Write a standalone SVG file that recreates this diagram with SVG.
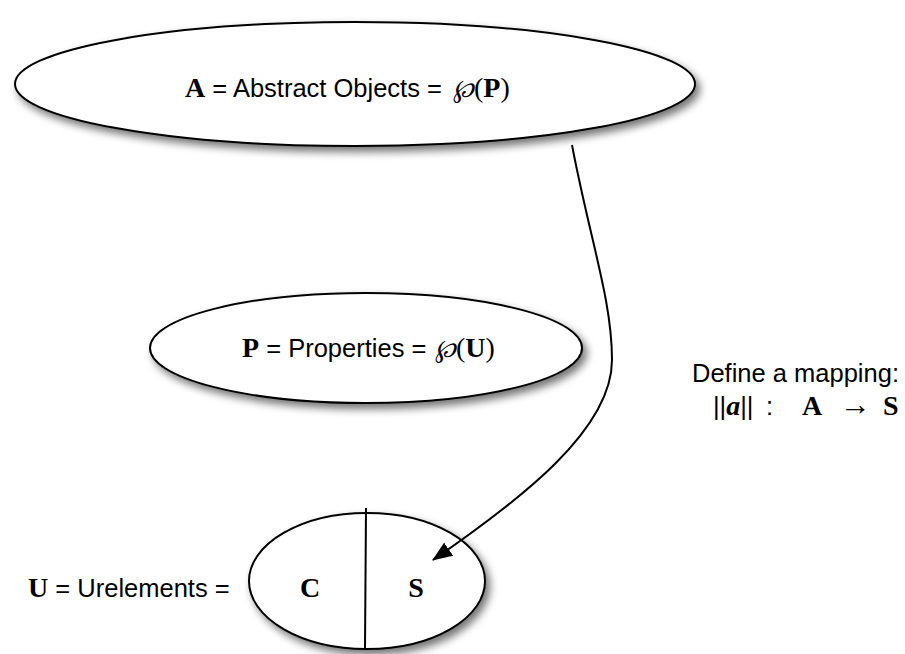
<svg xmlns="http://www.w3.org/2000/svg" width="905" height="654" viewBox="0 0 905 654">
<defs>
<filter id="sh" x="-20%" y="-20%" width="150%" height="160%">
<feGaussianBlur in="SourceAlpha" stdDeviation="4"/>
<feOffset dx="4" dy="5" result="b"/>
<feComponentTransfer><feFuncA type="linear" slope="0.55"/></feComponentTransfer>
<feMerge><feMergeNode/><feMergeNode in="SourceGraphic"/></feMerge>
</filter>
<marker id="ah" markerWidth="20" markerHeight="16" refX="19" refY="8" orient="auto" markerUnits="userSpaceOnUse" viewBox="0 0 20 16">
<path d="M0,0 L20,8 L0,16 z" fill="#000"/>
</marker>
</defs>
<style>
.e{fill:#fff;stroke:#000;stroke-width:2;filter:url(#sh)}
.t{font-family:"Liberation Sans",Arial,sans-serif;font-size:25.5px;fill:#000}
.b{font-family:"Liberation Serif","Times New Roman",serif;font-weight:bold;font-size:28px}
.r{font-family:"Liberation Serif","Times New Roman",serif;font-size:28px}
.w{font-family:"DejaVu Serif",serif;font-style:italic;font-size:25px}
.c{stroke:#000;stroke-width:2;fill:none}
</style>
<rect width="905" height="654" fill="#fff"/>
<g id="nodeA">
<ellipse class="e" cx="355" cy="84" rx="340" ry="62"/>
<text class="t" x="185" y="97"><tspan class="b">A</tspan> = Abstract Objects = <tspan class="w" x="453">℘</tspan><tspan class="r">(</tspan><tspan class="b">P</tspan><tspan class="r">)</tspan></text>
</g>
<g id="nodeP">
<ellipse class="e" cx="366" cy="348" rx="216" ry="55"/>
<text class="t" x="242" y="357"><tspan class="b">P</tspan> = Properties = <tspan class="w" x="435">℘</tspan><tspan class="r">(</tspan><tspan class="b">U</tspan><tspan class="r">)</tspan></text>
</g>
<g id="nodeU">
<ellipse class="e" cx="367" cy="581" rx="118" ry="68"/>
<line class="c" x1="366" y1="508" x2="365" y2="648"/>
<text class="b" x="310" y="597" text-anchor="middle">C</text>
<text class="b" x="416" y="597" text-anchor="middle">S</text>
</g>
<g id="labelU">
<text class="t" x="28" y="597"><tspan class="b">U</tspan> = Urelements =</text>
</g>
<g id="mapping">
<text class="t" x="692" y="382">Define a mapping:</text>
<text class="t" y="415"><tspan x="713">||</tspan><tspan class="b" font-style="italic">a</tspan><tspan>||</tspan><tspan x="766">:</tspan><tspan class="b" x="802">A</tspan><tspan class="r" x="840" style="font-size:31px">→</tspan><tspan class="b" x="883">S</tspan></text>
</g>
<g id="connectors">
<path class="c" d="M572,145 C590,240 612,300 612,360 C612,430 520,500 433,560" marker-end="url(#ah)"/>
</g>
</svg>
